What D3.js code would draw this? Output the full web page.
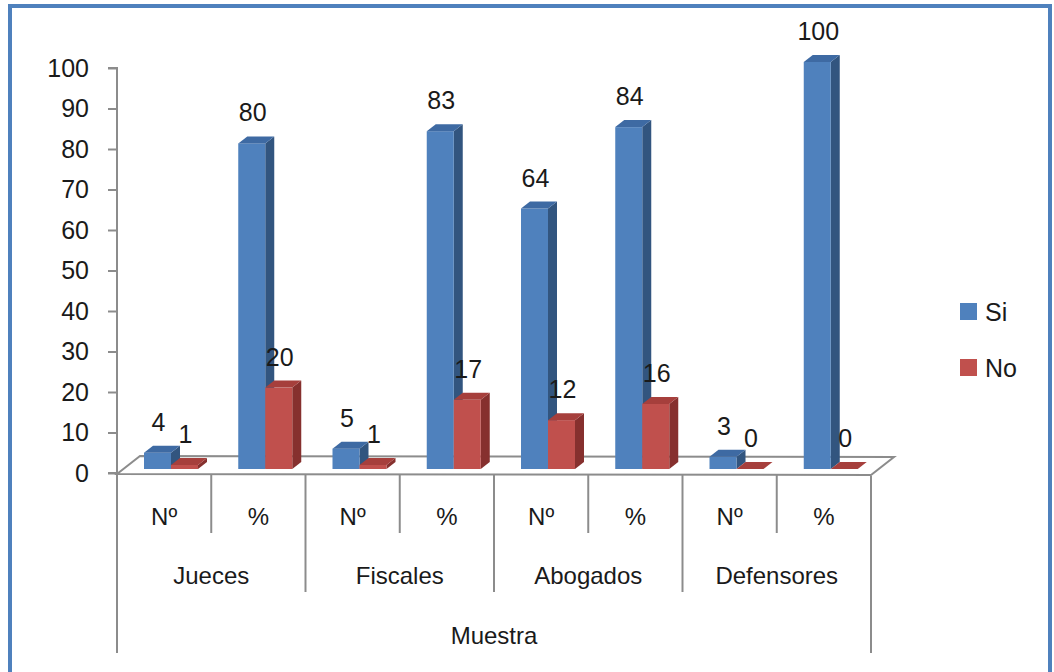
<!DOCTYPE html>
<html>
<head>
<meta charset="utf-8">
<script src="https://cdn.jsdelivr.net/npm/d3@7"></script>
<style>
  body { margin: 0; background: #fff; }
  svg text { font-family: "Liberation Sans", Arial, sans-serif; fill: #1a1a1a; }
</style>
</head>
<body>
<div id="chart"></div>
<script>
const groups = ["Jueces", "Fiscales", "Abogados", "Defensores"];
const subLabels = ["Nº", "%"];
const seriesNames = ["Si", "No"];
const siValues = [4, 80, 5, 83, 64, 84, 3, 100];
const noValues = [1, 20, 1, 17, 12, 16, 0, 0];
const yTicks = [0, 10, 20, 30, 40, 50, 60, 70, 80, 90, 100];
const axisTitle = "Muestra";

const W = 1054, H = 672;
const svg = d3.select("#chart").append("svg")
  .attr("width", W).attr("height", H);

// outer border
svg.append("rect")
  .attr("x", 10).attr("y", 6).attr("width", 1040).attr("height", 670)
  .attr("fill", "#fff").attr("stroke", "#4f81bd").attr("stroke-width", 4);

const cats = [];
groups.forEach(g => subLabels.forEach(s => cats.push(g + "|" + s)));

const rows = cats.map((c, i) => ({ key: c, Si: siValues[i], No: noValues[i] }));

const x = d3.scaleBand().domain(cats).range([117, 871]).padding(0);
const inner = d3.scaleBand().domain(seriesNames).range([27, 81]).padding(0);
const yAxisScale = d3.scaleLinear().domain([0, 100]).range([473, 68]);
const yBar = d3.scaleLinear().domain([0, 100]).range([469, 62]);

const floorDx = 23, floorDy = -17;
const barDx = 9, barDy = -7;

const colors = {
  Si: { front: "#4f81bd", top: "#3e6aa3", side: "#32557f" },
  No: { front: "#c0504d", top: "#a63f3c", side: "#86302e" }
};

// floor
const fx0 = x.range()[0], fx1 = x.range()[1], fy = yAxisScale(0) + 1;
svg.append("polygon")
  .attr("points", [[fx0, fy], [fx1, fy + 1], [fx1 + floorDx, fy + floorDy], [fx0 + floorDx, fy + floorDy - 1]].join(" "))
  .attr("fill", "#fff").attr("stroke", "#8c8c8c").attr("stroke-width", 2);

// bars
const barsG = svg.append("g");
rows.forEach(d => {
  seriesNames.forEach(s => {
    const x0 = x(d.key) + inner(s);
    const x1 = x0 + inner.bandwidth();
    const yb = yBar(0), yt = yBar(d[s]);
    const c = colors[s];
    const g = barsG.append("g");
    if (d[s] > 0) {
      g.append("polygon")
        .attr("points", [[x1, yt], [x1 + barDx, yt + barDy], [x1 + barDx, yb + barDy], [x1, yb]].join(" "))
        .attr("fill", c.side);
      g.append("rect")
        .attr("x", x0).attr("y", yt).attr("width", x1 - x0).attr("height", yb - yt)
        .attr("fill", c.front);
    }
    g.append("polygon")
      .attr("points", [[x0, yt], [x1, yt], [x1 + barDx, yt + barDy], [x0 + barDx, yt + barDy]].join(" "))
      .attr("fill", c.top);
    svg.append("text")
      .attr("x", (x0 + x1) / 2 + 1)
      .attr("y", yt + barDy - 24)
      .attr("text-anchor", "middle")
      .attr("dominant-baseline", "central")
      .attr("font-size", 25)
      .text(d[s]);
  });
});

// y axis
const yAxisG = svg.append("g")
  .attr("transform", "translate(117,0)")
  .call(d3.axisLeft(yAxisScale).tickValues(yTicks).tickSize(9).tickPadding(19));
yAxisG.select(".domain").attr("stroke", "#8c8c8c").attr("stroke-width", 2)
  .attr("d", `M-9,${yAxisScale(100)}H0V${yAxisScale(0)}H-9`);
yAxisG.selectAll(".tick line").attr("stroke", "#8c8c8c").attr("stroke-width", 2);
yAxisG.selectAll(".tick text").attr("font-size", 25).attr("fill", "#1a1a1a")
  .attr("font-family", "Liberation Sans, Arial, sans-serif");

// category axis (multi-level)
const catG = svg.append("g");
const lineTop = fy + 1;
const row1 = 533, row2 = 592, row3 = 653;
cats.forEach((c, i) => {
  const bx = x(c);
  const bottom = i === 0 ? row3 : (i % 2 === 0 ? row2 : row1);
  catG.append("line")
    .attr("x1", bx).attr("x2", bx).attr("y1", lineTop).attr("y2", bottom)
    .attr("stroke", "#8c8c8c").attr("stroke-width", 2);
  catG.append("text")
    .attr("x", bx + x.bandwidth() / 2).attr("y", 516)
    .attr("text-anchor", "middle").attr("dominant-baseline", "central")
    .attr("font-size", 24)
    .text(c.split("|")[1]);
});
catG.append("line")
  .attr("x1", fx1).attr("x2", fx1).attr("y1", lineTop + 1).attr("y2", row3)
  .attr("stroke", "#8c8c8c").attr("stroke-width", 2);

groups.forEach(g => {
  const a = x(g + "|" + subLabels[0]);
  const b = x(g + "|" + subLabels[1]) + x.bandwidth();
  catG.append("text")
    .attr("x", (a + b) / 2).attr("y", 575)
    .attr("text-anchor", "middle").attr("dominant-baseline", "central")
    .attr("font-size", 24)
    .text(g);
});

catG.append("text")
  .attr("x", (fx0 + fx1) / 2).attr("y", 635)
  .attr("text-anchor", "middle").attr("dominant-baseline", "central")
  .attr("font-size", 24)
  .text(axisTitle);

// legend
const legend = svg.append("g").attr("transform", "translate(960,303)");
seriesNames.forEach((s, i) => {
  const lg = legend.append("g").attr("transform", `translate(0,${i * 56})`);
  lg.append("rect").attr("width", 17).attr("height", 17).attr("fill", colors[s].front);
  lg.append("text").attr("x", 25).attr("y", 9)
    .attr("dominant-baseline", "central").attr("font-size", 25)
    .text(s);
});
</script>
</body>
</html>
